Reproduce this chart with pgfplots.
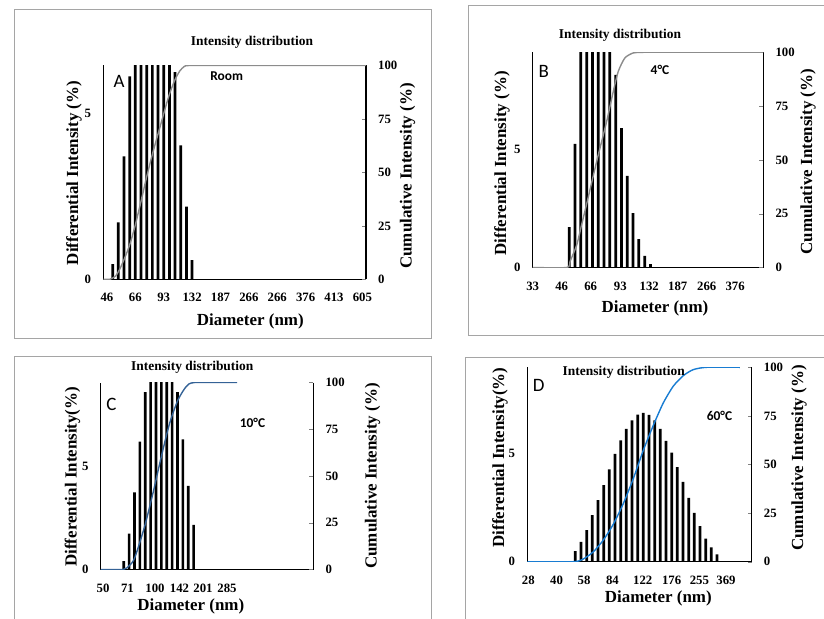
\documentclass[border=0pt]{standalone}
\usepackage{fontspec}
\setmainfont{Liberation Serif}
\newfontfamily\calibri{Carlito}
\usepackage{pgfplots}
\pgfplotsset{compat=1.18}

\definecolor{cgray}{RGB}{140,140,140}
\definecolor{cblueC}{RGB}{52,98,150}
\definecolor{cblueD}{RGB}{24,124,210}
\definecolor{frame}{RGB}{165,165,165}

\pgfplotsset{
  dls/.style={scale only axis, anchor=south west, clip=true,
    tick label style={font=\bfseries\fontsize{12.8}{13}\selectfont},
    /pgf/number format/assume math mode=true},
  dlsleft/.style={dls, axis x line=bottom, axis y line=left,
    axis line style={-, line width=1.2bp},
    major tick length=0pt, ymin=0, ytick={0,5},
    xticklabel style={inner sep=0pt, yshift=-14bp},
    yticklabel style={inner sep=0pt, xshift=-12bp}},
  dlsright/.style={dls, hide x axis, axis y line=right,
    axis line style={-, line width=1.2bp},
    ymin=0, ymax=100, ytick={0,25,50,75,100},
    tick align=inside, major tick length=4bp,
    yticklabel style={inner sep=0pt, xshift=12bp}},
  bars/.style={ybar, bar width=0.48, fill=black, draw=none},
}

\tikzset{
  ttl/.style={font=\bfseries\fontsize{13.5}{14}\selectfont},
  lab/.style={font=\bfseries\fontsize{17}{17}\selectfont},
  let/.style={font=\calibri\fontsize{19}{19}\selectfont},
  tmp/.style={font=\calibri\bfseries\fontsize{13.5}{14}\selectfont},
}

\begin{document}
\begin{tikzpicture}[x=1bp, y=-1bp]
\path[use as bounding box] (0,0) rectangle (824,619);

% panel frames
\draw[frame, line width=1bp] (14,9.3) rectangle (431.7,338.3);
\draw[frame, line width=1bp] (824,6) -- (468,6) -- (468,335) -- (824,335);
\draw[frame, line width=1bp] (14,619) -- (14,356) -- (431.7,356) -- (431.7,619);
\draw[frame, line width=1bp] (465,619) -- (465,357) -- (824,357);

% ---------- A : room ----------
\begin{axis}[dlsleft, at={(103.3bp,-279.3bp)}, width=262.7bp, height=213.8bp,
  xmin=-0.65, xmax=45.65, ymax=6.45,
  xtick={0,5,...,45}, xticklabels={46,66,93,132,187,266,266,376,413,605}]
\addplot[bars] coordinates {
  (1,0.46) (2,1.72) (3,3.71) (4,6.12) (5,8.3) (6,10.0) (7,11.2) (8,11.6)
  (9,11.2) (10,10.0) (11,8.4) (12,6.25) (13,4.04) (14,2.19) (15,0.58)};
\end{axis}
\begin{axis}[dlsright, at={(103.3bp,-279.3bp)}, width=262.7bp, height=213.8bp,
  xmin=-0.65, xmax=45.65]
\addplot[cgray, line width=1.4bp, smooth, tension=0.4] coordinates {
  (-0.65,0) (0.5,0) (1.5,1.5) (2.3,5) (3.2,10.5) (4.05,16.5) (5,25.5) (6,36.5)
  (7,48) (8,58.5) (9,68) (9.9,76.5) (10.7,84) (11.4,89.5) (12.1,94)
  (12.85,97.5) (13.6,99.5) (14.5,100) (20,100) (45.65,100)};
\end{axis}
\node[ttl] at (252,42.3) {Intensity distribution};
\node[lab] at (250.3,321) {Diameter (nm)};
\node[lab, rotate=90] at (74,173) {Differential Intensity (\%)};
\node[lab, rotate=90] at (407.5,176) {Cumulative Intensity (\%)};
\node[let] at (119,81.7) {A};
\node[tmp] at (226.7,75.7) {Room};

% ---------- B : 4 C ----------
\begin{axis}[dlsleft, at={(532.7bp,-267.5bp)}, width=230.6bp, height=215.2bp,
  xmin=-0.3, xmax=39.46, ymax=9.08,
  xtick={-0.3,4.7,9.7,14.8,19.8,24.7,29.7,34.6},
  xticklabels={33,46,66,93,132,187,266,376}]
\addplot[bars] coordinates {
  (6,1.70) (7,5.22) (8,9.5) (9,12.0) (10,13.0) (11,13.2) (12,12.4) (13,10.9)
  (14,8.13) (15,5.88) (16,3.87) (17,2.29) (18,1.20) (19,0.49) (20,0.14)};
\end{axis}
\begin{axis}[dlsright, at={(532.7bp,-267.5bp)}, width=230.6bp, height=215.2bp,
  xmin=-0.3, xmax=39.46]
\addplot[cgray, line width=1.4bp, smooth, tension=0.4] coordinates {
  (-0.3,0) (5.56,0) (6.13,2.8) (7.29,10.5) (8.1,19.5) (9.0,29.5) (10.73,49.3)
  (12.46,68) (13.6,81.9) (14.46,91.2) (15.6,97.4) (17.04,99.7) (18.8,100)
  (25,100) (39.46,100)};
\end{axis}
\node[ttl] at (620,35) {Intensity distribution};
\node[lab] at (655,308.3) {Diameter (nm)};
\node[lab, rotate=90] at (502,163.3) {Differential Intensity (\%)};
\node[lab, rotate=90] at (808,161.7) {Cumulative Intensity (\%)};
\node[let] at (543.8,71.7) {B};
\node[tmp] at (660,70) {4°C};

% ---------- C : 10 C ----------
\begin{axis}[dlsleft, at={(100.7bp,-569.5bp)}, width=212.6bp, height=187bp,
  xmin=-0.3, xmax=39.3, ymax=9.03,
  xtick={0.13,4.69,9.81,14.37,18.75,23.22},
  xticklabels={50,71,100,142,201,285}]
\addplot[bars] coordinates {
  (4,0.40) (5,1.73) (6,3.72) (7,6.17) (8,8.57) (9,10.6) (10,11.9) (11,12.3)
  (12,12.0) (13,11.6) (14,8.57) (15,6.28) (16,4.04) (17,2.16)};
\end{axis}
\begin{axis}[dlsright, at={(100.7bp,-569.5bp)}, width=212.6bp, height=187bp,
  xmin=-0.3, xmax=39.3]
\addplot[cblueC, line width=1.4bp, smooth, tension=0.4] coordinates {
  (-0.3,0) (3.85,0) (5,2) (6.03,6.2) (7.89,23.1) (9.44,40.9) (11.0,60.5)
  (12.55,78.3) (14.1,90.7) (15.65,97.9) (17.2,100) (25.1,100)};
\end{axis}
\node[ttl] at (192.3,367.3) {Intensity distribution};
\node[lab] at (190.8,606.7) {Diameter (nm)};
\node[lab, rotate=90] at (72.5,476.7) {Differential Intensity(\%)};
\node[lab, rotate=90] at (372.5,476) {Cumulative Intensity (\%)};
\node[let] at (111.3,404) {C};
\node[tmp] at (252.5,422.7) {10°C};

% ---------- D : 60 C ----------
\begin{axis}[dlsleft, at={(527.3bp,-561.7bp)}, width=224.4bp, height=194.4bp,
  xmin=-0.47, xmax=39.13, ymax=8.97,
  xtick={-0.3,4.7,9.55,14.55,19.9,25.0,29.9,34.6},
  xticklabels={28,40,58,84,122,176,255,369}]
\addplot[bars] coordinates {
  (8,0.49) (9,0.92) (10,1.46) (11,2.15) (12,2.84) (13,3.53) (14,4.26) (15,4.98)
  (16,5.60) (17,6.13) (18,6.52) (19,6.79) (20,6.87) (21,6.78) (22,6.52) (23,6.13)
  (24,5.57) (25,5.03) (26,4.37) (27,3.68) (28,2.94) (29,2.25) (30,1.64) (31,1.07)
  (32,0.66) (33,0.34)};
\end{axis}
\begin{axis}[dlsright, at={(527.3bp,-561.7bp)}, width=224.4bp, height=194.4bp,
  xmin=-0.47, xmax=39.13]
\addplot[cblueD, line width=1.4bp, smooth, tension=0.4] coordinates {
  (-0.47,0) (7.65,0) (9.41,1.4) (11.18,5.1) (12.94,11.1) (14.71,19.3)
  (16.47,29.9) (18.23,42.7) (20.0,57.3) (21.76,70.1) (23.53,81.7) (25.29,90.3)
  (27.06,95.7) (28.82,98.8) (31.18,100) (37.06,100)};
\end{axis}
\node[ttl] at (623.8,372.3) {Intensity distribution};
\node[lab] at (658.3,598.3) {Diameter (nm)};
\node[lab, rotate=90] at (500,457.5) {Differential Intensity(\%)};
\node[lab, rotate=90] at (799,458) {Cumulative Intensity (\%)};
\node[let] at (538.7,385) {D};
\node[tmp] at (719.5,416) {60°C};
\end{tikzpicture}
\end{document}
